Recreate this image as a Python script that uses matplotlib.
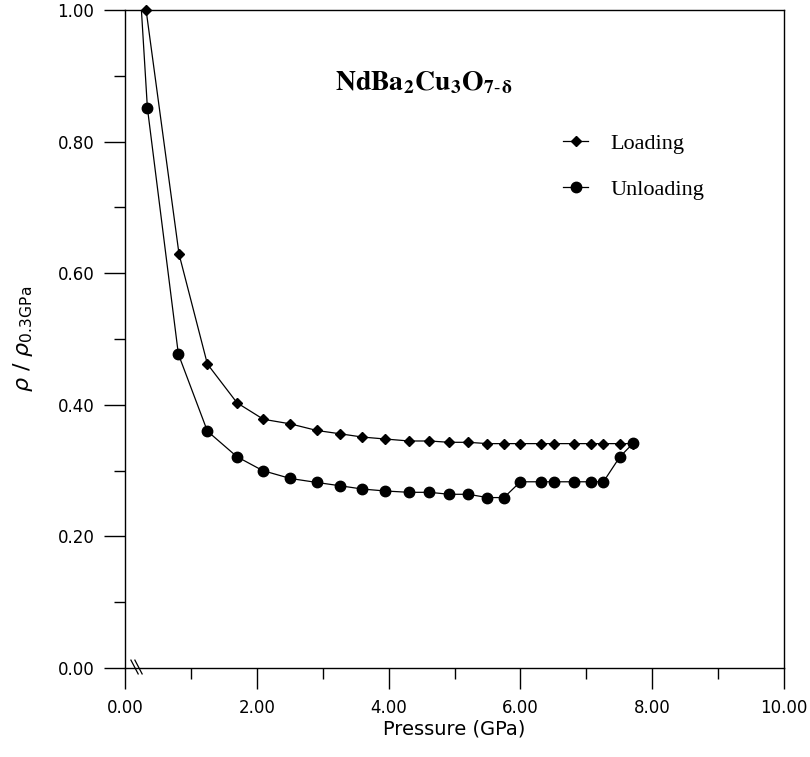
import matplotlib
matplotlib.use("Agg")
import matplotlib.pyplot as plt
import numpy as np
from matplotlib.ticker import MultipleLocator, FormatStrFormatter

# ---- data ----
load_p = [0.32, 0.82, 1.25, 1.70, 2.10, 2.51, 2.91, 3.26, 3.60, 3.95, 4.31, 4.62,
          4.92, 5.21, 5.50, 5.75, 6.00, 6.32, 6.51, 6.82, 7.07, 7.26, 7.51, 7.71]
load_r = [1.00, 0.629, 0.462, 0.403, 0.378, 0.371, 0.361, 0.356, 0.351, 0.348, 0.345, 0.345,
          0.343, 0.343, 0.341, 0.341, 0.341, 0.341, 0.341, 0.341, 0.341, 0.341, 0.341, 0.341]

unload_p = [0.20, 0.34, 0.81, 1.25, 1.70, 2.09, 2.51, 2.91, 3.26, 3.60, 3.95, 4.31, 4.62,
            4.92, 5.21, 5.50, 5.75, 6.00, 6.32, 6.51, 6.82, 7.07, 7.26, 7.51, 7.71]
unload_r = [1.08, 0.851, 0.477, 0.360, 0.321, 0.300, 0.288, 0.282, 0.277, 0.272, 0.269, 0.267, 0.267,
            0.264, 0.264, 0.259, 0.259, 0.283, 0.283, 0.283, 0.283, 0.283, 0.283, 0.321, 0.3415]

x_ticks = [0, 2, 4, 6, 8, 10]
y_ticks = [0.0, 0.2, 0.4, 0.6, 0.8, 1.0]

plt.rcParams['mathtext.fontset'] = 'stix'

fig = plt.figure(figsize=(8.1, 7.57), dpi=100)
ax = fig.add_axes([125/810, 89/757, 659/810, 658/757])

# loading
ax.plot(load_p, load_r, color='black', lw=0.9, marker='D', ms=5,
        clip_on=False, zorder=3, label='Loading')
# unloading: line clipped, markers only within range
ax.plot(unload_p, unload_r, color='black', lw=0.9, zorder=3)
up = np.array(unload_p); ur = np.array(unload_r)
m = ur <= 1.0
ax.plot(up[m], ur[m], linestyle='none', color='black', marker='o', ms=7.5,
        clip_on=False, zorder=4)
# legend proxies
h1, = ax.plot([], [], color='black', lw=0.9, marker='D', ms=5)
h2, = ax.plot([], [], color='black', lw=0.9, marker='o', ms=7.5)

ax.set_xlim(0, 10)
ax.set_ylim(0, 1.0)
ax.xaxis.set_minor_locator(MultipleLocator(1))
ax.yaxis.set_minor_locator(MultipleLocator(0.1))
ax.set_xticks(x_ticks)
ax.set_yticks(y_ticks)
ax.xaxis.set_major_formatter(FormatStrFormatter('%.2f'))
ax.yaxis.set_major_formatter(FormatStrFormatter('%.2f'))
ax.tick_params(which='major', direction='out', length=15, width=1.0,
               labelsize=12, pad=7, top=False, right=False)
ax.tick_params(which='minor', direction='out', length=8, width=1.0,
               top=False, right=False)
for s in ax.spines.values():
    s.set_linewidth(1.0)

ax.set_xlabel('Pressure (GPa)', fontsize=14, labelpad=2)
ax.set_ylabel(r'$\rho$ / $\rho_{\mathrm{0.3GPa}}$', fontsize=16,
              family='DejaVu Sans', labelpad=16)
ax.yaxis.label.set_math_fontfamily('dejavusans')

ax.text(4.54, 0.89, r'$\mathbf{NdBa_{2}Cu_{3}O_{7\text{-}\,\delta}}$',
        fontsize=20, ha='center', va='center')

leg = ax.legend([h1, h2], ['Loading', 'Unloading'], loc='upper left',
                bbox_to_anchor=(0.665, 0.812), frameon=False,
                prop={'family': 'Liberation Serif', 'size': 16},
                handlelength=1.13, handletextpad=1.0, labelspacing=1.12,
                borderpad=0, borderaxespad=0)

# axis break mark on x-axis
for x0 in (0.09, 0.15):
    ax.plot([x0, x0 + 0.11], [0.012, -0.009], color='black', lw=0.9,
            clip_on=False, zorder=5)

fig.savefig('out.png', dpi=100)
